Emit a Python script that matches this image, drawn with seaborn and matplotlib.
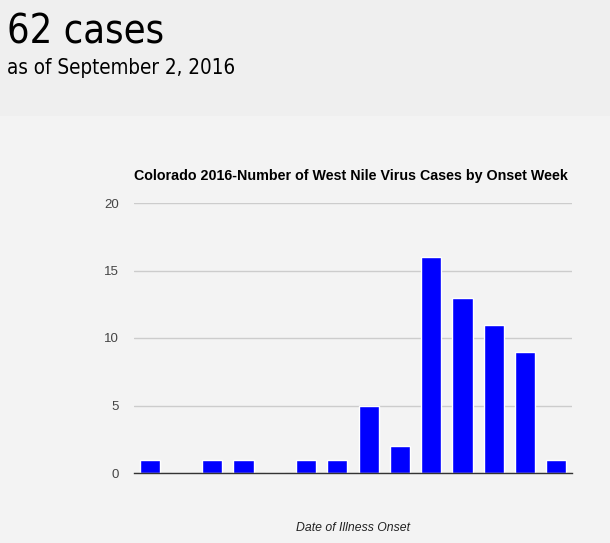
import matplotlib
matplotlib.use("Agg")
import matplotlib.pyplot as plt
import seaborn as sns
import pandas as pd

weeks = ["W1", "W2", "W3", "W4", "W5", "W6", "W7", "W8", "W9", "W10", "W11", "W12", "W13", "W14"]
cases = [1, 0, 1, 1, 0, 1, 1, 5, 2, 16, 13, 11, 9, 1]
y_ticks = [0, 5, 10, 15, 20]

df = pd.DataFrame({"week": weeks, "cases": cases})

sns.set_theme(style="white")
plt.rcParams["font.family"] = ["Liberation Sans", "DejaVu Sans"]

fig = plt.figure(figsize=(6.10, 5.43), dpi=100)
fig.patch.set_facecolor("#f3f3f3")
# header band
fig.add_artist(plt.Rectangle((0, 1 - 116 / 543), 1, 116 / 543, transform=fig.transFigure,
                             facecolor="#efefef", edgecolor="none", zorder=0))
fig.text(7 / 610, 1 - 33 / 543, "62 cases", fontsize=28.5, family="DejaVu Sans",
         fontstretch="condensed", va="center", ha="left", color="#000000")
fig.text(7 / 610, 1 - 68 / 543, "as of September 2, 2016", fontsize=14.8, family="DejaVu Sans",
         fontstretch="condensed", va="center", ha="left", color="#000000")

ax = fig.add_axes([134 / 610, 70 / 543, 438 / 610, 270 / 543])
ax.set_facecolor("#f3f3f3")
sns.barplot(data=df, x="week", y="cases", order=weeks, color="#0000ff",
            saturation=1, width=0.64, ax=ax, zorder=3)
ax.set_xlim(-0.5, len(weeks) - 0.5)
ax.set_ylim(0, 20)
ax.set_yticks(y_ticks)
ax.set_yticklabels([str(v) for v in y_ticks], fontsize=9.5, color="#444444")
ax.set_xticks([])
ax.grid(axis="y", color="#cccccc", linewidth=1, zorder=0)
for s in ["top", "right", "left"]:
    ax.spines[s].set_visible(False)
ax.spines["bottom"].set_color("#333333")
ax.spines["bottom"].set_linewidth(1)
ax.spines["bottom"].set_zorder(4)
ax.tick_params(axis="y", length=0, pad=11)
ax.set_ylabel("")
ax.set_xlabel("Date of Illness Onset", fontsize=8.8, style="italic", color="#222222", labelpad=35)
ax.set_title("Colorado 2016-Number of West Nile Virus Cases by Onset Week", fontsize=10.3,
             fontweight="bold", color="#000000", loc="left", pad=16.5)

fig.savefig("out.png", dpi=100, facecolor=fig.get_facecolor())
